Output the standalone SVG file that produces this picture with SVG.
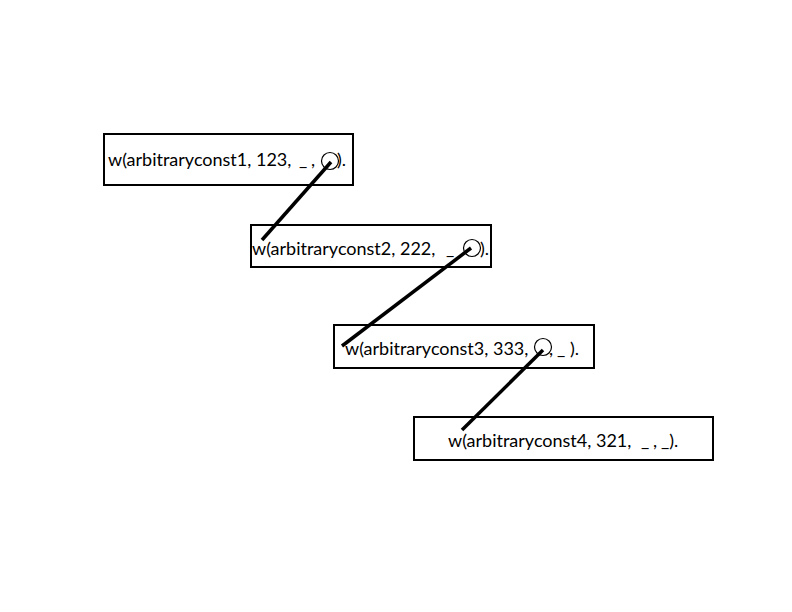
<svg xmlns="http://www.w3.org/2000/svg" width="792" height="612" viewBox="0 0 792 612">
<style>
.box{fill:#fff;stroke:#000;stroke-width:2}
.t{font-family:Lato,"Liberation Sans",sans-serif;font-size:18px;fill:#000}
.c{fill:none;stroke:#000;stroke-width:1.2}
.e{stroke:#000;stroke-width:3.5;fill:none}
</style>
<rect width="792" height="612" fill="#fff"/>
<g id="n1"><rect class="box" x="104" y="134" width="249" height="51"/>
<text class="t" x="108" y="166">w(arbitraryconst1, 123,</text>
<text class="t" x="299" y="166">_</text><text class="t" x="311" y="166">,</text>
<text class="t" x="337" y="166">).</text>
<circle class="c" cx="330" cy="161" r="8.5"/></g>
<g id="n2"><rect class="box" x="251" y="225" width="240" height="42"/>
<text class="t" x="252" y="255">w(arbitraryconst2, 222,</text>
<text class="t" x="446" y="255">_</text>
<text class="t" x="480" y="255">).</text>
<circle class="c" cx="472" cy="248" r="8.5"/></g>
<g id="n3"><rect class="box" x="334" y="325" width="260" height="43"/>
<text class="t" x="345" y="355">w(arbitraryconst3, 333,</text>
<text class="t" x="549" y="355">,</text><text class="t" x="557" y="355">_</text>
<text class="t" x="570" y="355">).</text>
<circle class="c" cx="543" cy="347" r="8.5"/></g>
<g id="n4"><rect class="box" x="414" y="417" width="299" height="43"/>
<text class="t" x="448" y="447">w(arbitraryconst4, 321,</text>
<text class="t" x="641" y="447">_</text><text class="t" x="653" y="447">,</text>
<text class="t" x="661" y="447">_).</text></g>
<g id="edges">
<line class="e" x1="331" y1="162" x2="262" y2="240"/>
<line class="e" x1="471" y1="248" x2="342" y2="346"/>
<line class="e" x1="543" y1="350" x2="462" y2="430"/>
</g>
</svg>
